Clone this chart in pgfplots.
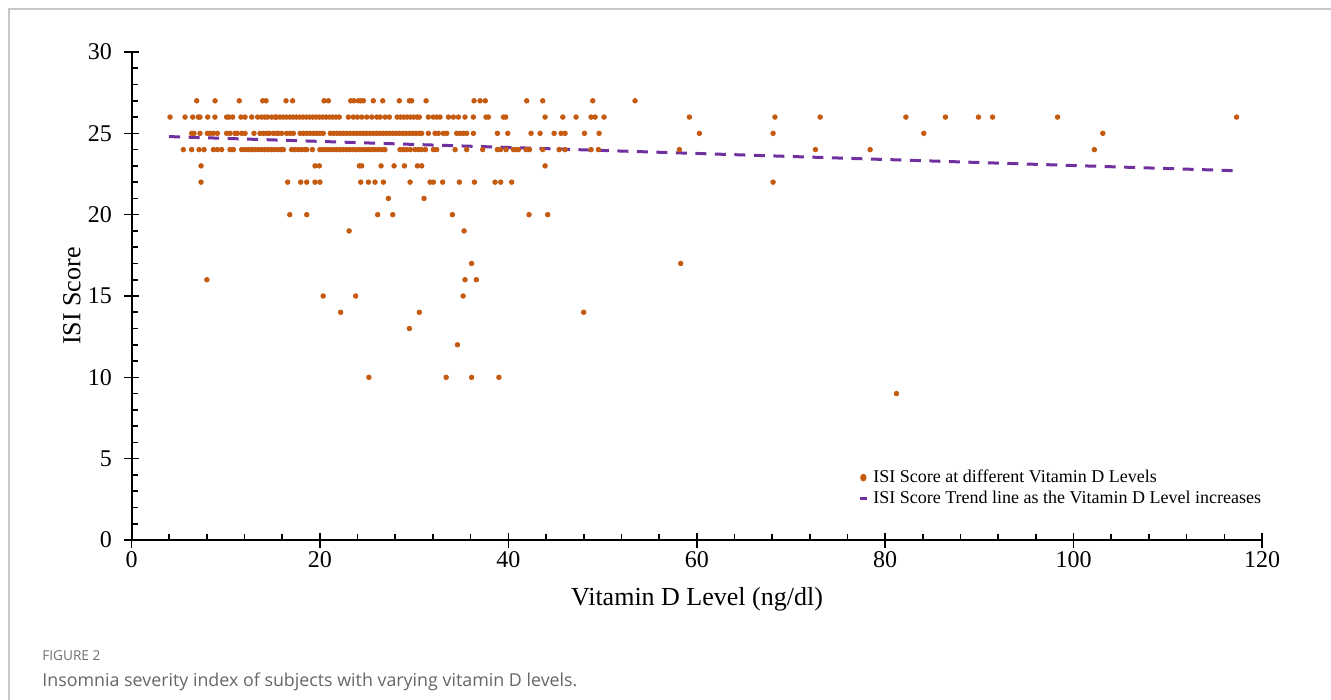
\documentclass[border=0pt]{standalone}
\usepackage{fontspec}
\setmainfont{Liberation Serif}
\newfontfamily\capfont{Open Sans}
\usepackage{pgfplots}
\pgfplotsset{compat=1.18}
\definecolor{dotc}{HTML}{C55A11}
\definecolor{trendc}{HTML}{7030A0}
\definecolor{framec}{HTML}{C8C8C8}
\definecolor{capgray}{HTML}{666666}
\definecolor{figgray}{HTML}{6E6E6E}
\begin{document}
\begin{tikzpicture}
\useasboundingbox (0,0) rectangle (665.5pt,-350pt);
\draw[framec, line width=0.75pt] (4.5pt,-350pt) -- (4.5pt,-4.5pt) -- (665.5pt,-4.5pt);
\begin{axis}[
  at={(65.75pt,-270pt)}, anchor=south west,
  width=565.25pt, height=244pt, scale only axis,
  xmin=0, xmax=120, ymin=0, ymax=30,
  axis lines=left, axis line style={-, line width=1pt, black},
  xtick={0,20,...,120}, ytick={0,5,...,30},
  minor x tick num=4, minor y tick num=4,
  tick align=inside,
  major tick length=7.5pt, minor tick length=3pt,
  every tick/.style={black, line width=0.8pt},
  every major x tick/.append style={yshift=-3.75pt},
  every major y tick/.append style={xshift=-3.75pt},
  tick label style={font=\fontsize{12}{14}\selectfont},
  /pgf/number format/assume math mode=true,
  xticklabel style={yshift=-2pt},
  yticklabel style={xshift=-6.3pt},
  legend style={draw=none, fill=none, inner sep=0pt, at={(0.6426,0.1496)}, anchor=north west,
    font=\fontsize{9}{11}\selectfont, row sep=0.45pt, column sep=1.5pt,
    nodes={inner sep=1pt, text height=6.3pt, text depth=1.9pt}},
  legend cell align=left,
]
\addplot[only marks, mark=*, mark size=1.15pt, color=dotc,
  legend image code/.code={\fill[dotc] (0pt,0pt) ellipse (1.4pt and 1.7pt);}]
table[row sep=\\] {x y\\
6.92 27\\ 8.87 27\\ 11.44 27\\ 13.93 27\\ 14.28 27\\ 16.40 27\\ 17.10 27\\ 20.44 27\\ 20.90 27\\ 23.27 27\\ 23.60 27\\ 24.08 27\\ 24.33 27\\ 24.61 27\\ 25.67 27\\ 26.67 27\\ 28.43 27\\ 29.50 27\\ 29.74 27\\ 31.27 27\\ 36.36 27\\ 37.00 27\\ 37.55 27\\ 41.95 27\\ 43.65 27\\ 48.96 27\\ 53.45 27\\
4.09 26\\ 5.68 26\\ 6.50 26\\ 7.09 26\\ 7.27 26\\ 8.09 26\\ 8.86 26\\ 10.10 26\\ 10.35 26\\ 10.74 26\\ 11.62 26\\ 12.05 26\\ 12.76 26\\ 13.39 26\\ 13.82 26\\ 14.17 26\\ 14.45 26\\ 14.88 26\\ 15.23 26\\
15.40 26\\ 15.75 26\\ 16.10 26\\ 16.45 26\\ 16.80 26\\ 17.15 26\\ 17.50 26\\ 17.85 26\\ 18.20 26\\ 18.55 26\\ 18.90 26\\ 19.25 26\\ 19.60 26\\ 19.95 26\\ 20.30 26\\ 20.65 26\\ 21.00 26\\ 21.35 26\\ 21.70 26\\ 22.05 26\\
23.02 26\\ 23.55 26\\ 23.98 26\\ 24.44 26\\ 24.97 26\\ 25.50 26\\ 26.03 26\\ 26.38 26\\ 26.91 26\\ 27.37 26\\
28.20 26\\ 28.55 26\\ 28.90 26\\ 29.25 26\\ 29.60 26\\ 29.95 26\\ 30.30 26\\ 30.55 26\\
31.51 26\\ 32.04 26\\ 32.40 26\\ 32.75 26\\ 33.64 26\\ 34.17 26\\ 34.70 26\\ 35.40 26\\ 36.29 26\\ 37.63 26\\ 37.88 26\\ 39.48 26\\ 39.72 26\\ 43.90 26\\ 45.78 26\\ 47.19 26\\ 48.78 26\\ 49.21 26\\ 50.16 26\\ 59.22 26\\ 68.30 26\\ 73.10 26\\ 82.20 26\\ 86.40 26\\ 89.90 26\\ 91.40 26\\ 98.30 26\\ 117.30 26\\
6.39 25\\ 6.63 25\\ 7.27 25\\ 8.05 25\\ 8.33 25\\ 8.69 25\\ 9.11 25\\ 10.10 25\\ 10.46 25\\ 10.99 25\\ 11.23 25\\ 11.70 25\\ 12.05 25\\ 13.00 25\\ 13.64 25\\ 14.00 25\\ 14.35 25\\ 14.63 25\\ 15.06 25\\ 15.41 25\\ 15.59 25\\ 15.94 25\\ 16.47 25\\ 16.83 25\\ 17.18 25\\
17.90 25\\ 18.25 25\\ 18.60 25\\ 18.95 25\\ 19.30 25\\ 19.65 25\\ 20.00 25\\ 20.35 25\\
21.10 25\\ 21.45 25\\ 21.80 25\\ 22.15 25\\ 22.50 25\\ 22.85 25\\ 23.20 25\\ 23.55 25\\ 23.90 25\\ 24.25 25\\ 24.60 25\\ 24.95 25\\ 25.30 25\\ 25.65 25\\ 26.00 25\\ 26.35 25\\ 26.70 25\\ 27.05 25\\ 27.40 25\\ 27.75 25\\ 28.10 25\\ 28.45 25\\ 28.80 25\\ 29.15 25\\ 29.50 25\\ 29.85 25\\ 30.20 25\\ 30.55 25\\ 30.80 25\\
31.51 25\\ 32.22 25\\ 32.57 25\\ 33.10 25\\ 33.46 25\\ 34.52 25\\ 34.88 25\\ 35.23 25\\ 35.58 25\\ 36.29 25\\ 38.84 25\\ 39.94 25\\ 42.41 25\\ 43.37 25\\ 44.86 25\\ 45.60 25\\ 46.02 25\\ 48.08 25\\ 49.63 25\\ 60.28 25\\ 68.10 25\\ 84.10 25\\ 103.10 25\\
5.50 24\\ 6.39 24\\ 7.17 24\\ 7.70 24\\ 8.69 24\\ 9.11 24\\ 9.57 24\\ 10.46 24\\ 10.81 24\\
11.70 24\\ 12.05 24\\ 12.40 24\\ 12.75 24\\ 13.10 24\\ 13.45 24\\ 13.80 24\\ 14.15 24\\ 14.50 24\\ 14.85 24\\ 15.20 24\\ 15.55 24\\ 15.90 24\\ 16.12 24\\
17.00 24\\ 17.35 24\\ 17.70 24\\ 18.05 24\\ 18.40 24\\ 18.60 24\\ 19.20 24\\
20.00 24\\ 20.35 24\\ 20.70 24\\ 21.05 24\\ 21.40 24\\ 21.75 24\\ 22.10 24\\ 22.45 24\\ 22.80 24\\ 23.15 24\\ 23.50 24\\ 23.85 24\\ 24.20 24\\ 24.55 24\\ 24.90 24\\ 25.25 24\\ 25.60 24\\ 25.95 24\\ 26.30 24\\ 26.65 24\\ 26.90 24\\
28.50 24\\ 28.85 24\\ 29.20 24\\ 29.60 24\\ 30.10 24\\ 30.45 24\\ 30.80 24\\ 31.20 24\\
32.04 24\\ 32.40 24\\ 34.35 24\\ 35.58 24\\ 37.28 24\\ 38.84 24\\ 39.18 24\\ 39.76 24\\ 40.54 24\\ 40.82 24\\ 41.07 24\\ 41.88 24\\ 42.24 24\\ 43.65 24\\ 45.39 24\\ 46.02 24\\ 48.78 24\\ 49.56 24\\ 58.16 24\\ 72.60 24\\ 78.40 24\\ 102.20 24\\
7.38 23\\ 19.48 23\\ 19.94 23\\ 24.19 23\\ 24.44 23\\ 26.49 23\\ 27.87 23\\ 28.97 23\\ 30.35 23\\ 30.81 23\\ 43.90 23\\
7.38 22\\ 16.58 22\\ 17.96 22\\ 18.60 22\\ 19.48 22\\ 20.00 22\\ 24.33 22\\ 25.14 22\\ 25.85 22\\ 26.74 22\\ 29.57 22\\ 31.69 22\\ 32.04 22\\ 33.03 22\\ 34.80 22\\ 36.40 22\\ 38.59 22\\ 39.19 22\\ 40.36 22\\ 68.10 22\\
27.27 21\\ 31.05 21\\
16.80 20\\ 18.60 20\\ 26.13 20\\ 27.73 20\\ 34.06 20\\ 42.20 20\\ 44.18 20\\
23.10 19\\ 35.30 19\\
36.10 17\\ 58.30 17\\
8.00 16\\ 35.40 16\\ 36.60 16\\
20.35 15\\ 23.80 15\\ 35.20 15\\
22.20 14\\ 30.55 14\\ 48.00 14\\
29.50 13\\
34.60 12\\
25.20 10\\ 33.40 10\\ 36.10 10\\ 39.00 10\\
81.20 9\\
};
\addlegendentry{ISI Score at different Vitamin D Levels}
\addplot[trendc, line width=1.5pt, dash pattern=on 5.5pt off 4.25pt,
  legend image code/.code={\draw[trendc, line width=1.5pt, solid] (-1.75pt,0pt) -- (1.75pt,0pt);}]
coordinates {(4.0,24.8) (117.3,22.7)};
\addlegendentry{ISI Score Trend line as the Vitamin D Level increases}
\end{axis}
\node[font=\fontsize{13}{15}\selectfont, anchor=base] at (348.5pt,-302.5pt) {Vitamin D Level (ng/dl)};
\node[font=\fontsize{13}{15}\selectfont, rotate=90, anchor=center] at (36pt,-148pt) {ISI Score};
\node[anchor=base west, inner sep=0pt, text=figgray] at (21pt,-330pt) {\resizebox{29pt}{!}{\capfont FIGURE 2}};
\node[anchor=base west, inner sep=0pt, text=capgray] at (21pt,-343pt) {\resizebox{267.5pt}{!}{\capfont Insomnia severity index of subjects with varying vitamin D levels.}};
\end{tikzpicture}
\end{document}
